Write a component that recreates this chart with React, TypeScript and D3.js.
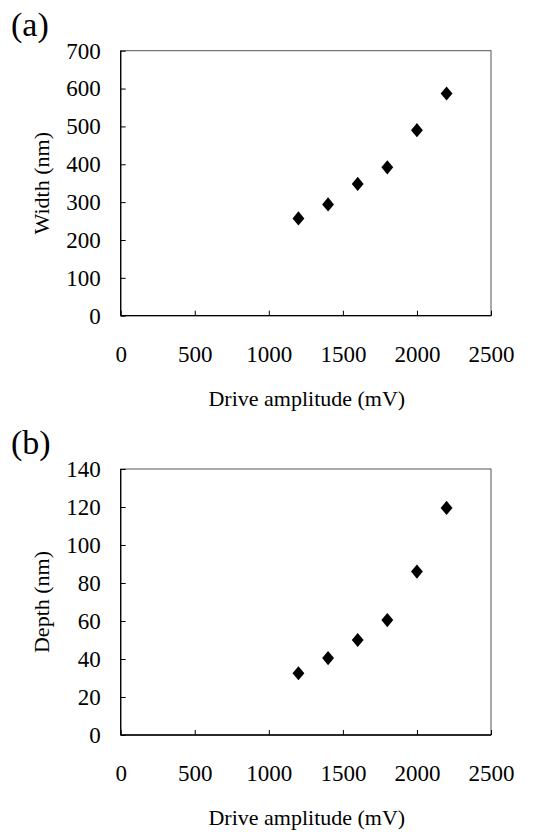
import React, { useRef, useEffect } from "react";
import { select, scaleLinear, axisLeft, axisBottom, symbol, symbolDiamond } from "d3";

const driveAmplitude = [1200, 1400, 1600, 1800, 2000, 2200];
const widthNm = [257, 294, 348, 392, 490, 587];
const depthNm = [32.5, 40.5, 50, 60.5, 86, 119.5];
const xTicks = [0, 500, 1000, 1500, 2000, 2500];
const widthTicks = [0, 100, 200, 300, 400, 500, 600, 700];
const depthTicks = [0, 20, 40, 60, 80, 100, 120, 140];

const FONT = "Liberation Serif";

function drawPanel(g, opts) {
    const { top, bottom, left, right, yMax, yTicks, values, letter, yLabel } = opts;
    const x = scaleLinear().domain([0, 2500]).range([left, right]);
    const y = scaleLinear().domain([0, yMax]).range([bottom, top]);

    // frame: top/right thin grey, left/bottom black
    g.append("rect")
        .attr("x", left).attr("y", top)
        .attr("width", right - left).attr("height", bottom - top)
        .attr("fill", "none").attr("stroke", "#555").attr("stroke-width", 1);

    const yAxis = axisLeft(y).tickValues(yTicks).tickSize(-5).tickPadding(20).tickFormat(d => String(d));
    const ya = g.append("g").attr("transform", `translate(${left},0)`).call(yAxis);
    const xAxis = axisBottom(x).tickValues(xTicks).tickSize(-5).tickPadding(30).tickFormat(d => String(d));
    const xa = g.append("g").attr("transform", `translate(0,${bottom})`).call(xAxis);
    [ya, xa].forEach(a => {
        a.attr("font-family", FONT).attr("font-size", 23);
        a.select(".domain").remove();
        a.selectAll("text").attr("fill", "#000");
        a.selectAll("line").attr("stroke", "#000");
    });

    g.append("line").attr("x1", left).attr("x2", left).attr("y1", top).attr("y2", bottom)
        .attr("stroke", "#000").attr("stroke-width", 1.3);
    g.append("line").attr("x1", left).attr("x2", right).attr("y1", bottom).attr("y2", bottom)
        .attr("stroke", "#000").attr("stroke-width", 1.3);

    const diamond = symbol().type(symbolDiamond).size(58);
    g.selectAll(".pt")
        .data(values)
        .join("path")
        .attr("class", "pt")
        .attr("d", diamond)
        .attr("transform", (v, i) => `translate(${x(driveAmplitude[i])},${y(v)}) scale(1.45,1)`)
        .attr("fill", "#000");

    g.append("text")
        .attr("x", 11).attr("y", top - 15)
        .attr("font-family", FONT).attr("font-size", 34)
        .text(letter);

    g.append("text")
        .attr("transform", `translate(49,${(top + bottom) / 2}) rotate(-90)`)
        .attr("text-anchor", "middle")
        .attr("font-family", FONT).attr("font-size", 22)
        .text(yLabel);

    g.append("text")
        .attr("x", (left + right) / 2 + 1).attr("y", bottom + 90)
        .attr("text-anchor", "middle")
        .attr("font-family", FONT).attr("font-size", 22)
        .text("Drive amplitude (mV)");
}

function App() {
    const svgRef = useRef(null);

    useEffect(() => {
        const svg = select(svgRef.current);
        svg.selectAll("*").remove();
        drawPanel(svg.append("g"), {
            top: 50.7, bottom: 315.7, left: 120.7, right: 491,
            yMax: 700, yTicks: widthTicks, values: widthNm,
            letter: "(a)", yLabel: "Width (nm)"
        });
        drawPanel(svg.append("g"), {
            top: 469, bottom: 735, left: 120.7, right: 491,
            yMax: 140, yTicks: depthTicks, values: depthNm,
            letter: "(b)", yLabel: "Depth (nm)"
        });
    }, []);

    return (
        <svg ref={svgRef} width={535} height={832}
            style={{ position: "absolute", left: 0, top: 0, background: "#fff" }} />
    );
}

export default App;
